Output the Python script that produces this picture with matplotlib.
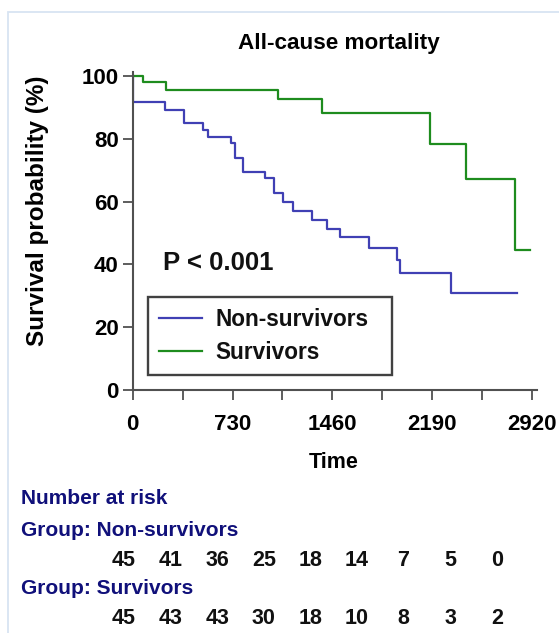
import matplotlib
matplotlib.use("Agg")
import matplotlib.pyplot as plt
from matplotlib.patches import Rectangle

# ---------------- data ----------------
non_t = [0, 3, 236, 377, 516, 547, 718, 747, 808, 971, 1034, 1097, 1173, 1312,
         1421, 1514, 1730, 1930, 1951, 2329, 2808]
non_s = [100, 91.6, 89.3, 85.1, 82.8, 80.5, 78.6, 74.0, 69.5, 67.4, 62.6, 60.0,
         57.1, 54.2, 51.4, 48.6, 45.3, 41.4, 37.2, 30.8, 30.8]
surv_t = [0, 73, 241, 1061, 1387, 2173, 2438, 2798, 2908]
surv_s = [100, 98.0, 95.7, 92.8, 88.2, 78.3, 67.1, 44.5, 44.5]

tick_times = [0, 365, 730, 1095, 1460, 1825, 2190, 2555, 2920]
tick_labels = ["0", "", "730", "", "1460", "", "2190", "", "2920"]
y_ticks = [0, 20, 40, 60, 80, 100]
risk_non = [45, 41, 36, 25, 18, 14, 7, 5, 0]
risk_surv = [45, 43, 43, 30, 18, 10, 8, 3, 2]

title = "All-cause mortality"
group_labels = ["Non-survivors", "Survivors"]
p_text = "P < 0.001"

# ---------------- style ----------------
plt.rcParams['font.family'] = ['Liberation Sans', 'DejaVu Sans']
W, H = 559, 633
fig = plt.figure(figsize=(W / 100, H / 100), dpi=100)
fig.patch.set_facecolor("white")

blue = "#4040b4"
green = "#1e8c1e"
navy = "#10107a"
spine_c = "#505050"

# border
fig.patches.append(Rectangle((8 / W, -0.2), 1.5, (H - 12) / H + 0.2,
                             transform=fig.transFigure, fill=False,
                             edgecolor="#d8e4f2", linewidth=1.3))

ax_l, ax_r, ax_b, ax_t = 132.7, 536.7, 390, 72
ax = fig.add_axes([ax_l / W, (H - ax_b) / H, (ax_r - ax_l) / W, (ax_b - ax_t) / H])
ax.set_facecolor("none")

ax.plot(non_t, non_s, drawstyle="steps-post", color=blue, lw=1.6,
        label=group_labels[0])
ax.plot(surv_t, surv_s, drawstyle="steps-post", color=green, lw=1.6,
        label=group_labels[1])

ax.set_xlim(0, 2954)
ax.set_ylim(0, 101.3)
ax.set_xticks(tick_times)
ax.set_xticklabels(tick_labels)
ax.set_yticks(y_ticks)
for s in ["top", "right"]:
    ax.spines[s].set_visible(False)
for s in ["left", "bottom"]:
    ax.spines[s].set_color(spine_c)
    ax.spines[s].set_linewidth(1.5)
ax.tick_params(axis="both", direction="out", length=7, width=1.3,
               color=spine_c, labelsize=16)
ax.tick_params(axis="x", pad=10)
ax.tick_params(axis="y", pad=3)
for lab in ax.get_xticklabels() + ax.get_yticklabels():
    lab.set_fontweight("bold")

ax.set_xlabel("Time", fontsize=15.5, fontweight="bold")
ax.xaxis.set_label_coords((334 - ax_l) / (ax_r - ax_l), (ax_b - 463) / (ax_b - ax_t))
ax.set_ylabel("Survival probability (%)", fontsize=17.5, fontweight="bold")
ax.yaxis.set_label_coords((38 - ax_l) / (ax_r - ax_l), (ax_b - 211) / (ax_b - ax_t))
ax.xaxis.label.set_va("center")
ax.yaxis.label.set_va("center")

ax.text((339 - ax_l) / (ax_r - ax_l), (ax_b - 43) / (ax_b - ax_t), title,
        transform=ax.transAxes, ha="center", va="center", fontsize=16.2,
        fontweight="bold")
ax.text((162.7 - ax_l) / (ax_r - ax_l), (ax_b - 263) / (ax_b - ax_t), p_text,
        transform=ax.transAxes, ha="left", va="center", fontsize=18.5,
        fontweight="bold", color="#111111")

lx0 = (147.7 - ax_l) / (ax_r - ax_l)
lx1 = (392.3 - ax_l) / (ax_r - ax_l)
ly1 = (ax_b - 296.7) / (ax_b - ax_t)
leg = ax.legend(loc="upper left", bbox_to_anchor=(lx0, ly1, lx1 - lx0, 0.0001),
                mode="expand", fontsize=16.3, frameon=True, fancybox=False,
                borderpad=0.5, labelspacing=0.45, handlelength=1.9,
                handletextpad=0.6, borderaxespad=0)
leg.get_frame().set_edgecolor("#111111")
leg.get_frame().set_linewidth(1.7)
for t in leg.get_texts():
    t.set_fontweight("bold")
    t.set_color("#111111")

# ---------------- risk table ----------------
x0, x8 = 124, 496.8
tab = fig.add_axes([x0 / W, 0, (x8 - x0) / W, 1])
tab.set_xlim(0, 2920)
tab.set_ylim(H, 0)
tab.axis("off")

fig.text(20.7 / W, 1 - 498 / H, "Number at risk", ha="left", va="center",
         fontsize=15, fontweight="bold", color=navy)
fig.text(20.7 / W, 1 - 530 / H, "Group: " + group_labels[0], ha="left",
         va="center", fontsize=15, fontweight="bold", color=navy)
fig.text(20.7 / W, 1 - 588 / H, "Group: " + group_labels[1], ha="left",
         va="center", fontsize=15, fontweight="bold", color=navy)
for t, n in zip(tick_times, risk_non):
    tab.text(t, 561, str(n), ha="center", va="center", fontsize=15.5,
             fontweight="bold", color="#111111")
for t, n in zip(tick_times, risk_surv):
    tab.text(t, 618, str(n), ha="center", va="center", fontsize=15.5,
             fontweight="bold", color="#111111")

fig.savefig("out.png", dpi=100)
